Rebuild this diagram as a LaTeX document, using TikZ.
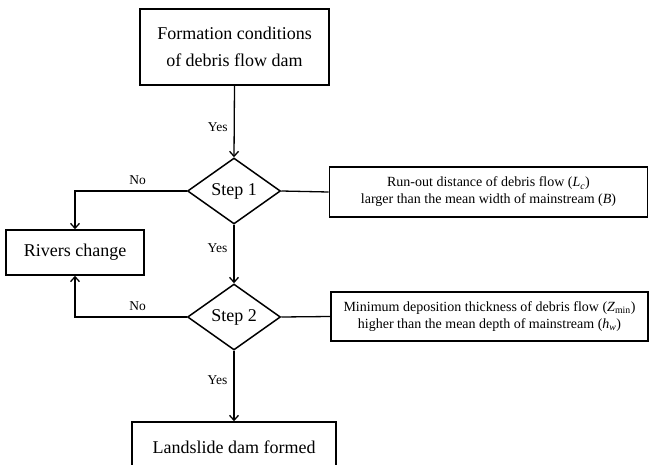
\documentclass[tikz,border=0pt]{standalone}
\usepackage{fontspec}
\setmainfont{Liberation Serif}
\usetikzlibrary{shapes.geometric,arrows.meta}
\begin{document}
\begin{tikzpicture}[x=1pt,y=-1pt,
  bigbox/.style={draw,line width=1.8pt,inner sep=0pt,font=\fontsize{18}{27}\selectfont,align=center},
  condbox/.style={draw,line width=1.8pt,inner sep=0pt,font=\fontsize{14}{17}\selectfont,align=center},
  decision/.style={draw,diamond,line width=1.5pt,minimum width=93pt,minimum height=66pt,inner sep=0pt,font=\fontsize{18}{22}\selectfont},
  conn/.style={line width=1.3pt},
  arr/.style={conn,-{Straight Barb[length=5pt,width=9pt]}},
  lab/.style={font=\fontsize{13.5}{16}\selectfont,inner sep=2pt}]
\useasboundingbox (0,0) rectangle (655,465);
\clip (0,0) rectangle (655,465);
\node[bigbox,minimum width=189pt,minimum height=76pt] (top) at (234.5,47) {Formation conditions\\of debris flow dam};
\node[decision] (d1) at (234,191) {Step 1};
\node[decision] (d2) at (234,317) {Step 2};
\node[condbox,minimum width=318pt,minimum height=50pt] (c1) at (488.5,192) {Run-out distance of debris flow (\textit{L}\textsubscript{\textit{c}})\\larger than the mean width of mainstream (\textit{B})};
\node[condbox,minimum width=317pt,minimum height=49pt] (c2) at (489.5,316.5) {Minimum deposition thickness of debris flow (\textit{Z}\textsubscript{min})\\higher than the mean depth of mainstream (\textit{h}\textsubscript{\textit{w}})};
\node[bigbox,line width=1.5pt,minimum width=138pt,minimum height=45pt] (rc) at (75,252.5) {Rivers change};
\node[bigbox,line width=1.5pt,minimum width=204pt,minimum height=50pt] (ld) at (234,447) {Landslide dam formed};
\draw[arr] (top.south) -- node[lab,left=4pt,pos=0.58] {Yes} (d1.north);
\draw[arr] (d1.south) -- node[lab,left=4pt,pos=0.4] {Yes} (d2.north);
\draw[arr] (d2.south) -- node[lab,left=4pt,pos=0.41] {Yes} (ld.north);
\draw[conn] (d1.east) -- (c1.west);
\draw[conn] (d2.east) -- (c2.west);
\draw[arr] (d1.west) -| node[lab,above=4pt,pos=0.22] {No} (rc.north);
\draw[arr] (d2.west) -| node[lab,above=4pt,pos=0.22] {No} (rc.south);
\end{tikzpicture}
\end{document}
